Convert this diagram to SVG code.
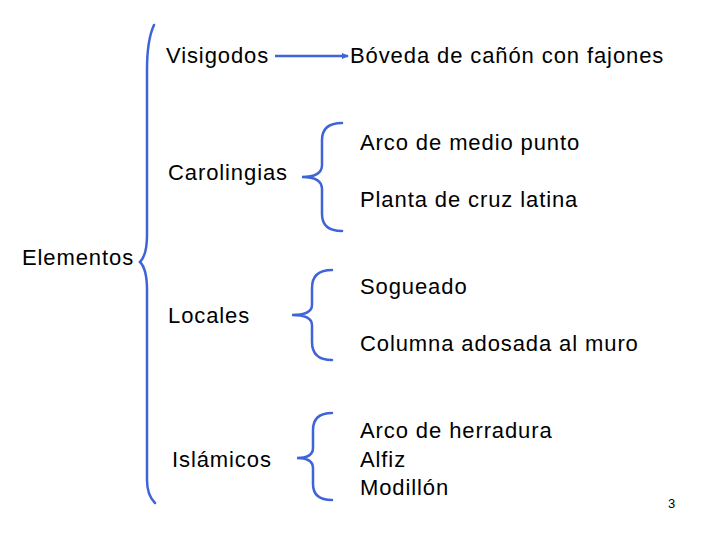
<svg xmlns="http://www.w3.org/2000/svg" width="720" height="540" viewBox="0 0 720 540">
<defs>
<style>
text{font-family:"Liberation Sans",Arial,sans-serif;font-size:22px;letter-spacing:0.9px;fill:#000}
.br{fill:none;stroke:#3f64d8;stroke-width:2.5;stroke-linecap:round}
</style>
<marker id="ah" markerWidth="8" markerHeight="8" refX="6" refY="4" orient="auto" markerUnits="userSpaceOnUse"><path d="M0,1 L7,4 L0,7 z" fill="#3f64d8"/></marker>
</defs>
<rect width="720" height="540" fill="#fff"/>
<g id="connectors">
<path class="br" d="M154,25 Q147,40 147,70 L147,235 Q147,255 140,262 Q147,269 147,290 L147,480 Q147,495 155,503"/>
<line x1="275" y1="56" x2="348" y2="56" stroke="#3f64d8" stroke-width="2.5" marker-end="url(#ah)"/>
<path class="br" d="M342,123 Q322,123 322,140 L322,165 Q322,177 302,177 Q322,177 322,189 L322,214 Q322,231 342,231"/>
<path class="br" d="M332,270 Q312,270 312,288 L312,305 Q312,315 292,315 Q312,315 312,325 L312,342 Q312,360 332,360"/>
<path class="br" d="M332,413 Q313,413 313,430 L313,448 Q313,458 297,458 Q313,458 313,468 L313,484 Q313,500 332,500"/>
</g>
<g id="elementos"><text x="22" y="265">Elementos</text></g>
<g id="visigodos"><text x="166" y="63">Visigodos</text></g>
<g id="boveda"><text x="350" y="63">Bóveda de cañón con fajones</text></g>
<g id="carolingias"><text x="168" y="180">Carolingias</text></g>
<g id="arco-medio"><text x="360" y="150">Arco de medio punto</text></g>
<g id="planta"><text x="360" y="207">Planta de cruz latina</text></g>
<g id="locales"><text x="168" y="323">Locales</text></g>
<g id="sogueado"><text x="360" y="294">Sogueado</text></g>
<g id="columna"><text x="360" y="351">Columna adosada al muro</text></g>
<g id="islamicos"><text x="172" y="467">Islámicos</text></g>
<g id="islamicos-items"><text x="360" y="438">Arco de herradura</text><text x="360" y="467">Alfiz</text><text x="360" y="495">Modillón</text></g>
<g id="page"><text x="668" y="508" style="font-size:13px;letter-spacing:0">3</text></g>
</svg>
